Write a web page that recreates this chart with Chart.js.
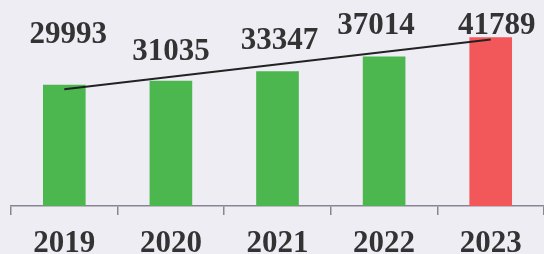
<!DOCTYPE html>
<html>
<head>
<meta charset="utf-8">
<script src="https://cdn.jsdelivr.net/npm/chart.js@4/dist/chart.umd.min.js"></script>
<style>
  html, body { margin: 0; padding: 0; background: #eeedf4; }
  #wrap { width: 544px; height: 254px; }
</style>
</head>
<body>
<div id="wrap"><canvas id="myChart"></canvas></div>
<script>
// values
var years = ['2019', '2020', '2021', '2022', '2023'];
var values = [29993, 31035, 33347, 37014, 41789];
// trend line end points
var trend = [28900, null, null, null, 41250];

var barColors = ['#4cb64f', '#4cb64f', '#4cb64f', '#4cb64f', '#f2575a'];
// label nudges (dx, dy of label centre above the bar top)
var labelDx = [4, 0, 2, -8, 6];
var labelDy = [50, 29, 30, 31, 11];

var valueLabels = {
  id: 'valueLabels',
  afterDatasetsDraw: function(chart) {
    var ctx = chart.ctx;
    var meta = chart.getDatasetMeta(1);
    ctx.save();
    ctx.font = 'bold 31px "Liberation Serif", "Times New Roman", serif';
    ctx.fillStyle = '#333333';
    ctx.textAlign = 'center';
    ctx.textBaseline = 'middle';
    meta.data.forEach(function(bar, i) {
      ctx.fillText(String(values[i]), bar.x + labelDx[i], bar.y - labelDy[i]);
    });
    ctx.restore();
  }
};

var ctx = document.getElementById('myChart').getContext('2d');
var chart = new Chart(ctx, {
  type: 'bar',
  data: {
    labels: years,
    datasets: [{
      type: 'line',
      data: trend,
      borderColor: '#222222',
      borderWidth: 2,
      pointRadius: 0,
      spanGaps: true,
      order: 0
    }, {
      data: values,
      backgroundColor: barColors,
      barPercentage: 0.4,
      categoryPercentage: 1,
      order: 1
    }]
  },
  options: {
    responsive: true,
    maintainAspectRatio: false,
    animation: false,
    layout: { padding: { left: 11, right: 0, top: 0, bottom: 0 } },
    plugins: {
      legend: { display: false },
      tooltip: { enabled: false }
    },
    scales: {
      x: {
        afterFit: function(scale) { scale.height = 48; },
        border: { color: '#8a8494', width: 1.5 },
        grid: { drawOnChartArea: false, tickLength: 9, color: '#8a8494', lineWidth: 1.5, offset: true },
        ticks: {
          padding: 10,
          color: '#333333',
          font: { family: '"Liberation Serif", "Times New Roman", serif', size: 31, weight: 'bold' }
        }
      },
      y: {
        display: false,
        min: 0,
        max: 51000
      }
    }
  },
  plugins: [valueLabels]
});
</script>
</body>
</html>
